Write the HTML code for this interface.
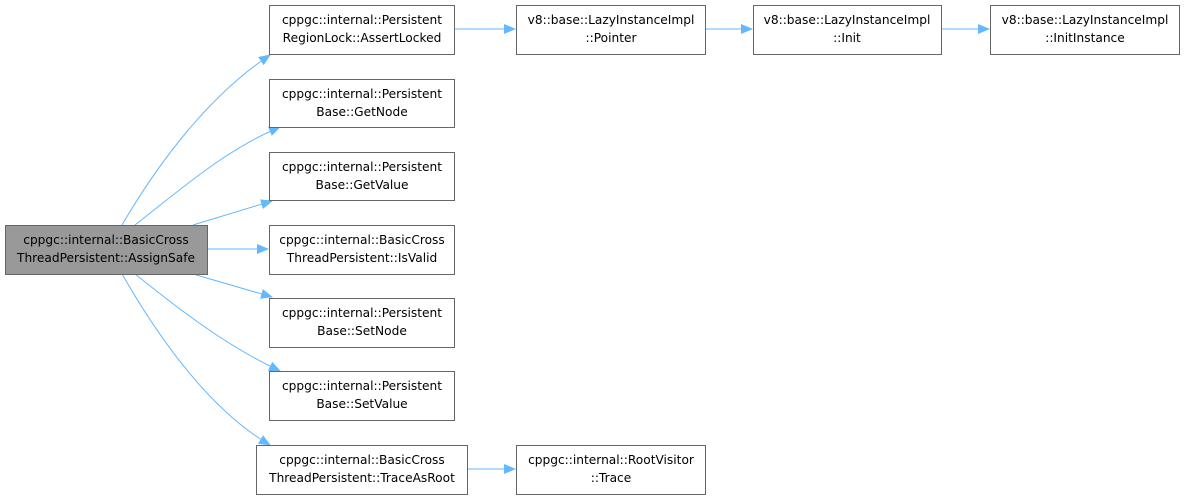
<!DOCTYPE html>
<html><head><style>
body{margin:0;width:1185px;height:499px;background:#fff;overflow:hidden}
svg text{font-family:"DejaVu Sans","Liberation Sans",sans-serif;font-size:12.2px;fill:#000}
</style></head><body>
<svg width="1185" height="499" xmlns="http://www.w3.org/2000/svg">
<defs><marker id="a" markerWidth="12" markerHeight="10" refX="11" refY="5" orient="auto" markerUnits="userSpaceOnUse"><path d="M0,0 L12,5 L0,10 z" fill="#63b8ff"/></marker></defs>
<g fill="none" stroke="#63b8ff" stroke-width="1" marker-end="url(#a)">
<path d="M122,225 C160,160 210,95 270,55"/>
<path d="M135,225 C180,190 225,150 280,127"/>
<path d="M193,225 L272,201"/>
<path d="M207,249 L268,249"/>
<path d="M193,274 L272,297"/>
<path d="M135,274 C180,310 225,345 280,371"/>
<path d="M122,274 C160,340 210,410 270,445"/>
<path d="M454,29 L515,29"/>
<path d="M705,29 L752,29"/>
<path d="M941,29 L989,29"/>
<path d="M467,469 L515,469"/>
</g>
<g stroke="#666" stroke-width="1">
<rect x="5.5" y="225.5" width="202" height="49" fill="#999"/>
<rect x="269.5" y="5.5" width="185" height="49" fill="#fff"/>
<rect x="269.5" y="79.5" width="185" height="48" fill="#fff"/>
<rect x="269.5" y="152.5" width="185" height="48" fill="#fff"/>
<rect x="269.5" y="225.5" width="185" height="49" fill="#fff"/>
<rect x="269.5" y="298.5" width="185" height="49" fill="#fff"/>
<rect x="269.5" y="371.5" width="185" height="49" fill="#fff"/>
<rect x="256.5" y="445.5" width="211" height="49" fill="#fff"/>
<rect x="516.5" y="5.5" width="189" height="49" fill="#fff"/>
<rect x="753.5" y="5.5" width="188" height="49" fill="#fff"/>
<rect x="990.5" y="5.5" width="189" height="49" fill="#fff"/>
<rect x="516.5" y="445.5" width="189" height="49" fill="#fff"/>
</g>
<g text-anchor="middle">
<text x="106" y="244">cppgc::internal::BasicCross</text><text x="106" y="262">ThreadPersistent::AssignSafe</text>
<text x="362" y="24">cppgc::internal::Persistent</text><text x="362" y="42">RegionLock::AssertLocked</text>
<text x="362" y="98">cppgc::internal::Persistent</text><text x="362" y="116">Base::GetNode</text>
<text x="362" y="171">cppgc::internal::Persistent</text><text x="362" y="189">Base::GetValue</text>
<text x="362" y="244">cppgc::internal::BasicCross</text><text x="362" y="262">ThreadPersistent::IsValid</text>
<text x="362" y="317">cppgc::internal::Persistent</text><text x="362" y="335">Base::SetNode</text>
<text x="362" y="390">cppgc::internal::Persistent</text><text x="362" y="408">Base::SetValue</text>
<text x="362" y="464">cppgc::internal::BasicCross</text><text x="362" y="482">ThreadPersistent::TraceAsRoot</text>
<text x="611" y="24">v8::base::LazyInstanceImpl</text><text x="611" y="42">::Pointer</text>
<text x="847" y="24">v8::base::LazyInstanceImpl</text><text x="847" y="42">::Init</text>
<text x="1085" y="24">v8::base::LazyInstanceImpl</text><text x="1085" y="42">::InitInstance</text>
<text x="611" y="464">cppgc::internal::RootVisitor</text><text x="611" y="482">::Trace</text>
</g>
</svg>
</body></html>
